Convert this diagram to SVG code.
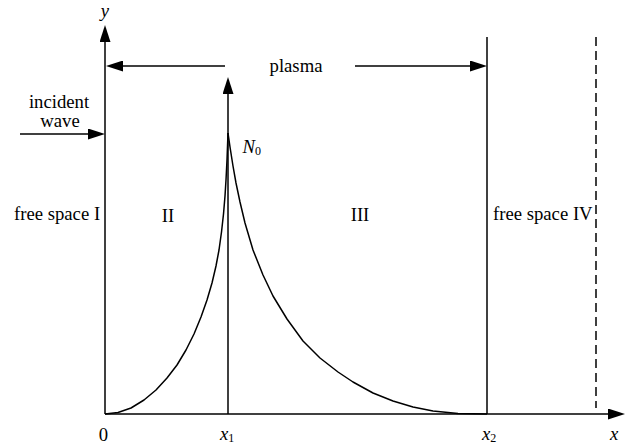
<svg xmlns="http://www.w3.org/2000/svg" width="629" height="447" viewBox="0 0 629 447">
<style>
  .ln{stroke:#000;stroke-width:1.5;fill:none;stroke-linejoin:round}
  .dash{stroke:#000;stroke-width:1.5;fill:none;stroke-dasharray:9,5}
  .t{font-family:"Liberation Serif","Times New Roman",serif;font-size:18.7px;fill:#000}
  .it{font-family:"Liberation Serif","Times New Roman",serif;font-size:18.7px;font-style:italic;fill:#000}
  .sub{font-style:normal;font-size:12px}
</style>
<defs>
  <marker id="ah" markerUnits="userSpaceOnUse" markerWidth="17" markerHeight="11" refX="14" refY="5.5" orient="auto">
    <path d="M0,0 L17,5.5 L0,11 Z" fill="#000"/>
  </marker>
</defs>
<rect width="629" height="447" fill="#fff"/>
<g id="connectors">
  <line id="y-axis" class="ln" x1="105" y1="414" x2="105" y2="28" marker-end="url(#ah)"/>
  <line id="x-axis" class="ln" x1="105" y1="414" x2="622" y2="414" marker-end="url(#ah)"/>
  <line id="x1-arrow" class="ln" x1="228" y1="414" x2="228" y2="80" marker-end="url(#ah)"/>
  <line id="plasma-left" class="ln" x1="225" y1="66" x2="109" y2="66" marker-end="url(#ah)"/>
  <line id="plasma-right" class="ln" x1="355" y1="66" x2="484" y2="66" marker-end="url(#ah)"/>
  <line id="incident-arrow" class="ln" x1="20" y1="134" x2="102" y2="134" marker-end="url(#ah)"/>
  <line id="x2-line" class="ln" x1="487" y1="37" x2="487" y2="414"/>
  <line id="dashed-line" class="dash" x1="596" y1="37" x2="596" y2="408"/>
</g>
<g id="curve-II">
  <path class="ln" d="M105,414 L118,412.5 L131,408 L144,400 L156,390 L167,378 L177,365 L186,350 L194,334 L201,317 L207,300 L212,283 L216,266 L219,250 L221.5,232 L223.5,214 L225,196 L226,180 L227,160 L228,133"/>
</g>
<g id="curve-III">
  <path class="ln" d="M228,133 L230,147 L233,166 L236,183 L240,202 L245,223 L253,250 L263,275 L273,296 L287,319 L303,341 L320,358 L338,372 L353,382 L373,393 L393,401 L413,407 L433,411 L458,413.5 L487,414"/>
</g>
<g id="labels">
  <text class="it" x="105" y="17" text-anchor="middle">y</text>
  <text class="t" x="296" y="72" text-anchor="middle">plasma</text>
  <text class="t" x="59" y="108" text-anchor="middle">incident</text>
  <text class="t" x="60" y="127" text-anchor="middle">wave</text>
  <text class="it" x="242.5" y="153">N<tspan class="sub" dy="1.5">0</tspan></text>
  <text class="t" x="14" y="220">free space I</text>
  <text class="t" x="168" y="222" text-anchor="middle">II</text>
  <text class="t" x="360" y="221" text-anchor="middle">III</text>
  <text class="t" x="493" y="220">free space IV</text>
  <text class="t" x="103.5" y="440.5" text-anchor="middle">0</text>
  <text class="it" x="220" y="440">x<tspan class="sub" dy="2">1</tspan></text>
  <text class="it" x="482" y="440">x<tspan class="sub" dy="2">2</tspan></text>
  <text class="it" x="610" y="440">x</text>
</g>
</svg>
